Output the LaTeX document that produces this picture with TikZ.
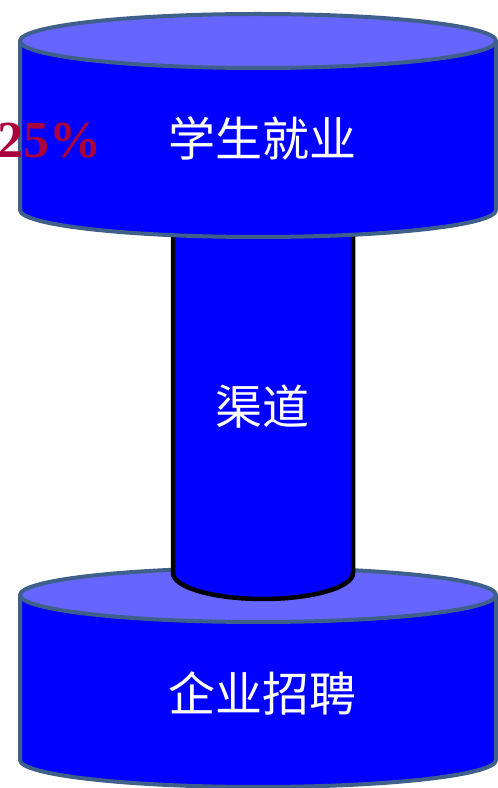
\documentclass[tikz,border=0pt]{standalone}
\usepackage{fontspec}
\newfontfamily\cjk{Noto Sans CJK SC}
\newfontfamily\numfont{Liberation Serif}
\usetikzlibrary{positioning}
\definecolor{drumblue}{RGB}{0,0,255}
\definecolor{lidblue}{RGB}{102,102,255}
\definecolor{rimgray}{RGB}{64,96,140}
\definecolor{crimson}{RGB}{170,0,60}

\begin{document}
\begin{tikzpicture} [%
    x = 1pt,
    y = 1pt,
    line join = round,
    drum/.style = {%
      fill = drumblue,
      draw = rimgray,
      line width = 4pt },
    lid/.style = {%
      fill = lidblue,
      draw = rimgray,
      line width = 4pt },
    pipe/.style = {%
      fill = drumblue,
      draw = black,
      line width = 4.5pt },
    caption/.style = {%
      text = white,
      inner sep = 0pt,
      font = \cjk\fontsize{47}{47}\selectfont }
  ]
  \useasboundingbox (0,0) rectangle (498,788);

  % bottom drum
  \draw[drum] (20,193) -- (20,28) arc[start angle=180, end angle=360, x radius=238, y radius=27] -- (496,193) -- cycle;
  \draw[lid] (258,193) ellipse[x radius=238, y radius=27];

  % middle pipe
  \draw[pipe] (173,600) -- (173,215) arc[start angle=180, end angle=360, x radius=90, y radius=26] -- (353,600);

  % top drum
  \draw[drum] (20,747) -- (20,578) arc[start angle=180, end angle=360, x radius=238, y radius=27] -- (496,747) -- cycle;
  \draw[lid] (258,747) ellipse[x radius=238, y radius=27];

  \node[caption] (top) at (262,650) {学生就业};
  \node[caption] (mid) at (262,381) {渠道};
  \node[caption] (bot) at (262,95) {企业招聘};
  \node[anchor=base east, inner sep=0pt, text=crimson,
        font=\numfont\bfseries\fontsize{52}{52}\selectfont] (pct) at (102,630) {25\%};

\end{tikzpicture}
\end{document}
